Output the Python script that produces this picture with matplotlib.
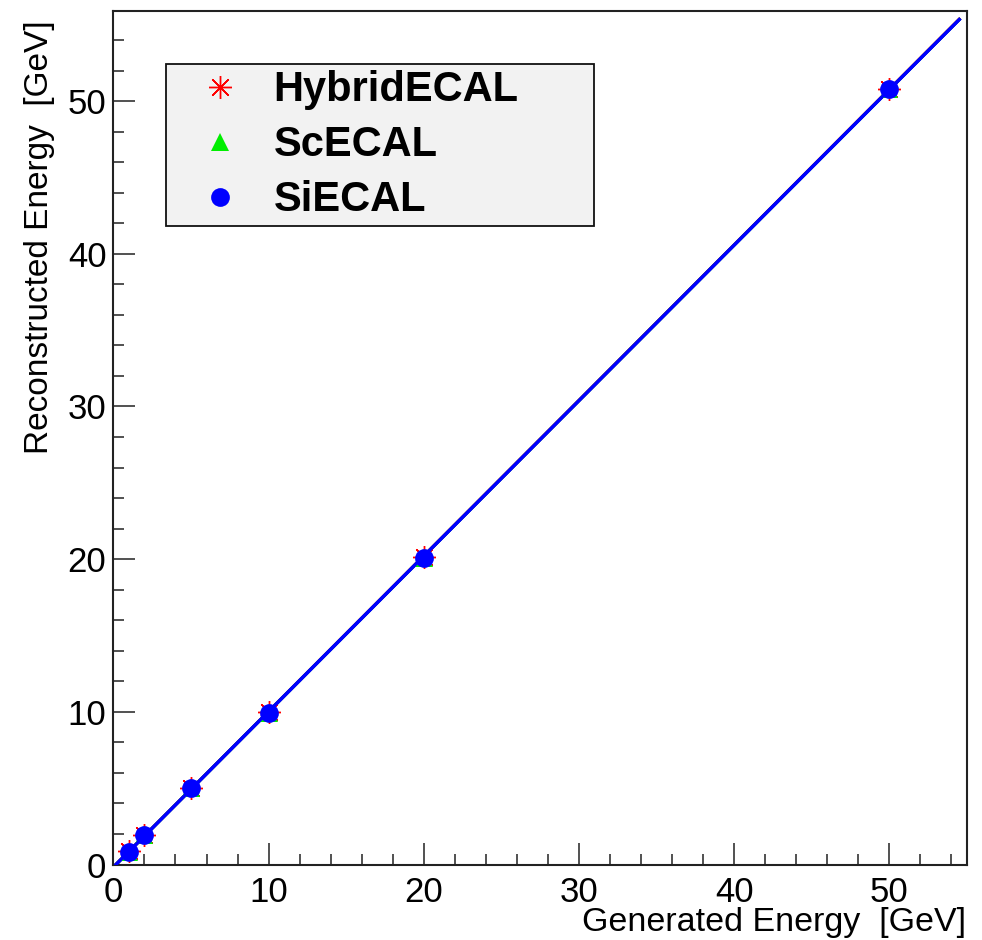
import numpy as np
import matplotlib
matplotlib.use("Agg")
import matplotlib.pyplot as plt
from matplotlib.ticker import MultipleLocator

plt.rcParams['font.family'] = ['Liberation Sans', 'DejaVu Sans']

# ---- data ----
gen_energy = [1, 2, 5, 10, 20, 50]
hybrid_reco = [0.86, 1.94, 4.99, 9.96, 20.12, 50.82]
scecal_reco = [0.85, 1.93, 4.98, 9.95, 20.10, 50.80]
siecal_reco = [0.85, 1.93, 4.98, 9.95, 20.10, 50.80]
labels = ["HybridECAL", "ScECAL", "SiECAL"]
fit_range = [0.17, 54.5]

fig = plt.figure(figsize=(9.82, 9.4), dpi=100)
ax = fig.add_axes([113.4/982, 1-864.5/940, (967-113.4)/982, (864.5-11)/940])

series = [
    (hybrid_reco, '#ff0000', (8, 2, 0), 16.5),
    (scecal_reco, '#00ee00', '^', 13),
    (siecal_reco, '#0000ff', 'o', 13.5),
]
handles = []
xf = np.linspace(fit_range[0], fit_range[1], 200)
for (ys, col, mk, ms) in series:
    p = np.polyfit(gen_energy, ys, 1)
    ax.plot(xf, np.polyval(p, xf), color=col, lw=2.3, zorder=2)
for (ys, col, mk, ms), lab in zip(series, labels):
    h, = ax.plot(gen_energy, ys, linestyle='none', marker=mk, color=col,
                 markersize=ms, markeredgewidth=1.0 if mk not in ('o', '^') else 0,
                 label=lab, zorder=3)
    handles.append(h)
# redraw blue fit on top
p = np.polyfit(gen_energy, siecal_reco, 1)
ax.plot(xf, np.polyval(p, xf), color='#0000ff', lw=2.3, zorder=4)

ax.set_xlim(0, 55)
ax.set_ylim(0, 55.9)
ax.xaxis.set_major_locator(MultipleLocator(10))
ax.xaxis.set_minor_locator(MultipleLocator(2))
ax.yaxis.set_major_locator(MultipleLocator(10))
ax.yaxis.set_minor_locator(MultipleLocator(2))
ax.tick_params(which='both', direction='in', top=False, right=False, width=1.1, color='#222222')
ax.tick_params(which='major', length=16)
ax.tick_params(which='minor', length=8)
ax.tick_params(axis='x', which='major', labelsize=25, pad=8)
ax.tick_params(axis='y', which='major', labelsize=25, pad=5)
for s in ax.spines.values():
    s.set_linewidth(1.5)
    s.set_color('#222222')

fig.text(966/982, 1-922/940, "Generated Energy  [GeV]", ha='right', va='center', fontsize=24.5)
fig.text(40/982, 1-20/940, "Reconstructed Energy  [GeV]", ha='center', va='top',
         rotation=90, fontsize=24)

leg = ax.legend(handles=handles, loc='upper left',
                bbox_to_anchor=(0.0616, 0.7504, 0.5014, 0.1876), mode='expand',
                borderaxespad=0, prop={'weight': 'bold', 'size': 30},
                frameon=True, fancybox=False, framealpha=1, facecolor='#f2f2f2',
                edgecolor='#111111', borderpad=0.15, handlelength=2.3,
                handletextpad=0.13, labelspacing=0.36, numpoints=1, markerscale=1.0)
leg.get_frame().set_linewidth(1.3)

fig.savefig("out.png", dpi=100)
